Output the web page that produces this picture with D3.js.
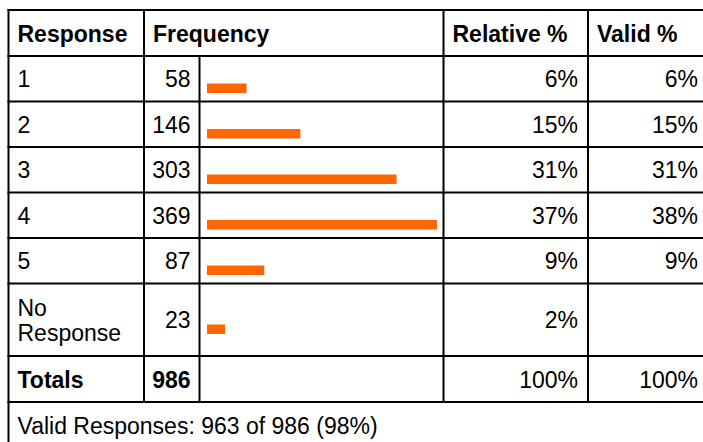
<!DOCTYPE html>
<html>
<head>
<meta charset="utf-8">
<script src="https://cdn.jsdelivr.net/npm/d3@7"></script>
<style>
  body { margin: 0; background: #fff; }
  svg { display: block; font-family: "Liberation Sans", Arial, sans-serif; }
</style>
</head>
<body>
<script>
const responses = ["1", "2", "3", "4", "5", "No Response"]
const frequency = [58, 146, 303, 369, 87, 23]
const relativePct = [6, 15, 31, 37, 9, 2]
const validPct = [6, 15, 31, 38, 9, null]
const headers = ["Response", "Frequency", "Relative %", "Valid %"]
const totalCount = 986
const totalRelative = 100
const totalValid = 100
const validCount = 963

const width = 703
const height = 442
const fontSize = 23

// column borders
const colX = [8.5, 144, 199.5, 443.5, 588, 708]
const pad = 9

// row heights
const headerH = 46
const rowH = 45.5
const tallH = 72.5
const totalsH = 46

const rows = responses.map((r, i) => ({
  label: r,
  freq: frequency[i],
  rel: relativePct[i],
  valid: validPct[i],
  h: r.includes(" ") ? tallH : rowH
}))

let y0 = 10
const headerTop = y0
y0 += headerH
rows.forEach((d) => {
  d.y = y0
  y0 += d.h
})
const totalsTop = y0
y0 += totalsH
const footerTop = y0

const x = d3.scaleLinear().domain([0, d3.max(frequency)]).range([4, 230])

const svg = d3.select("body").append("svg").attr("width", width).attr("height", height).style("font-size", fontSize + "px")

const g = svg.append("g")

// header
const hdr = g.append("g").attr("font-weight", "bold")
hdr.append("text").attr("x", colX[0] + pad).attr("y", headerTop + headerH / 2 + 9).text(headers[0])
hdr.append("text").attr("x", colX[1] + pad).attr("y", headerTop + headerH / 2 + 9).text(headers[1])
hdr.append("text").attr("x", colX[3] + pad).attr("y", headerTop + headerH / 2 + 9).text(headers[2])
hdr.append("text").attr("x", colX[4] + pad).attr("y", headerTop + headerH / 2 + 9).text(headers[3])

// body rows
const row = g.selectAll("g.row").data(rows).join("g").attr("class", "row")

row.each(function (d) {
  const sel = d3.select(this)
  const mid = d.y + d.h / 2
  const words = d.label.split(" ")
  const lh = 25
  const t = sel.append("text").attr("x", colX[0] + pad)
  words.forEach((w, k) => {
    t.append("tspan")
      .attr("x", colX[0] + pad)
      .attr("y", mid + 8.5 + (k - (words.length - 1) / 2) * lh)
      .text(w)
  })
})

row.append("text")
  .attr("x", colX[2] - pad)
  .attr("y", (d) => d.y + d.h / 2 + 8.5)
  .attr("text-anchor", "end")
  .text((d) => d.freq)

row.append("rect")
  .attr("x", colX[2] + 7.5)
  .attr("y", (d) => d.y + d.h / 2 + 9.5 - 4.75)
  .attr("width", (d) => x(d.freq))
  .attr("height", 9.5)
  .attr("fill", "#ff6600")

row.append("text")
  .attr("x", colX[4] - pad - 1)
  .attr("y", (d) => d.y + d.h / 2 + 8.5)
  .attr("text-anchor", "end")
  .text((d) => d.rel + "%")

row.filter((d) => d.valid != null)
  .append("text")
  .attr("x", colX[5] - pad - 1)
  .attr("y", (d) => d.y + d.h / 2 + 8.5)
  .attr("text-anchor", "end")
  .text((d) => d.valid + "%")

// totals
const tot = g.append("g")
const tMid = totalsTop + totalsH / 2 + 8.5
tot.append("text").attr("x", colX[0] + pad).attr("y", tMid).attr("font-weight", "bold").text("Totals")
tot.append("text").attr("x", colX[2] - pad).attr("y", tMid).attr("text-anchor", "end").attr("font-weight", "bold").text(totalCount)
tot.append("text").attr("x", colX[4] - pad - 1).attr("y", tMid).attr("text-anchor", "end").text(totalRelative + "%")
tot.append("text").attr("x", colX[5] - pad - 1).attr("y", tMid).attr("text-anchor", "end").text(totalValid + "%")

// footer
const validShare = Math.round((validCount / totalCount) * 100)
g.append("text")
  .attr("x", colX[0] + pad)
  .attr("y", footerTop + 32)
  .text(`Valid Responses: ${validCount} of ${totalCount} (${validShare}%)`)

// grid lines
const lines = g.append("g").attr("stroke", "#000").attr("stroke-width", 2)
const hLines = [headerTop, ...rows.map((d) => d.y), totalsTop, footerTop]
lines.selectAll("line.h").data(hLines).join("line")
  .attr("x1", colX[0] - 1).attr("x2", colX[5])
  .attr("y1", (d) => d).attr("y2", (d) => d)

// left border runs to bottom
lines.append("line").attr("x1", colX[0]).attr("x2", colX[0]).attr("y1", headerTop - 1).attr("y2", height)

// inner verticals
const vLines = [
  {x: colX[1], y1: headerTop, y2: footerTop},
  {x: colX[2], y1: headerTop + headerH, y2: footerTop},
  {x: colX[3], y1: headerTop, y2: footerTop},
  {x: colX[4], y1: headerTop, y2: footerTop}
]
lines.selectAll("line.v").data(vLines).join("line")
  .attr("x1", (d) => d.x).attr("x2", (d) => d.x)
  .attr("y1", (d) => d.y1 - 1).attr("y2", (d) => d.y2 + 1)
</script>
</body>
</html>
